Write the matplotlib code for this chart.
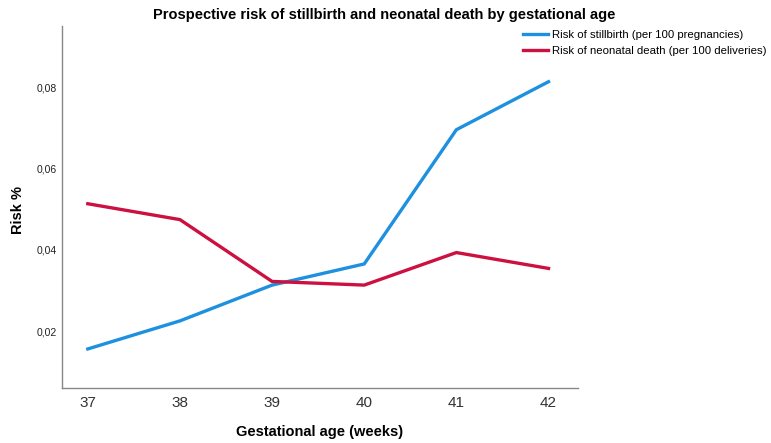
import matplotlib
matplotlib.use("Agg")
import matplotlib.pyplot as plt

weeks = [37, 38, 39, 40, 41, 42]
stillbirth = [0.0156, 0.0225, 0.0313, 0.0365, 0.0695, 0.0813]
neonatal = [0.0513, 0.0474, 0.0322, 0.0313, 0.0393, 0.0354]
ytick_vals = [0.02, 0.04, 0.06, 0.08]
ytick_labels = ["0,02", "0,04", "0,06", "0,08"]

plt.rcParams['font.family'] = ['Liberation Sans', 'DejaVu Sans']

fig = plt.figure(figsize=(7.71, 4.43), dpi=100)
ax = fig.add_axes([62/771, 1-388/443, (578-62)/771, (388-26)/443])

l1, = ax.plot(weeks, stillbirth, color='#1E90E0', lw=2.4, solid_joinstyle='miter',
              label='Risk of stillbirth (per 100 pregnancies)')
l2, = ax.plot(weeks, neonatal, color='#CC1040', lw=2.4, solid_joinstyle='miter',
              label='Risk of neonatal death (per 100 deliveries)')

ax.set_xlim(36.72, 42.32)
ax.set_ylim(0.006, 0.095)
ax.set_xticks(weeks)
ax.set_xticklabels([str(w) for w in weeks], fontsize=11, color='#333333')
ax.set_yticks(ytick_vals)
ax.set_yticklabels(ytick_labels, fontsize=7.5, color='#222222')
ax.tick_params(axis='both', length=0)
ax.tick_params(axis='x', pad=6)
ax.tick_params(axis='y', pad=4)
for s in ['top', 'right']:
    ax.spines[s].set_visible(False)
for s in ['left', 'bottom']:
    ax.spines[s].set_color('#888888')
    ax.spines[s].set_linewidth(1.0)

ax.set_xlabel('Gestational age (weeks)', fontsize=10.5, fontweight='bold')
ax.xaxis.set_label_coords((320-62)/516, -(432-388)/362)
ax.xaxis.label.set_va('center')
ax.set_ylabel('Risk %', fontsize=10.5, fontweight='bold')
ax.yaxis.set_label_coords(-(62-18)/516, (388-210)/362)
ax.yaxis.label.set_va('center')
fig.text(384/771, 1-15/443, 'Prospective risk of stillbirth and neonatal death by gestational age',
         ha='center', va='center', fontsize=10.5, fontweight='bold')

fig.legend(handles=[l1, l2], loc='upper left', bbox_to_anchor=(523/771, 1-30/443),
           frameon=False, fontsize=8.2, handlelength=2.2, handletextpad=0.35,
           labelspacing=0.5, borderaxespad=0, borderpad=0)

fig.savefig('out.png', dpi=100)
